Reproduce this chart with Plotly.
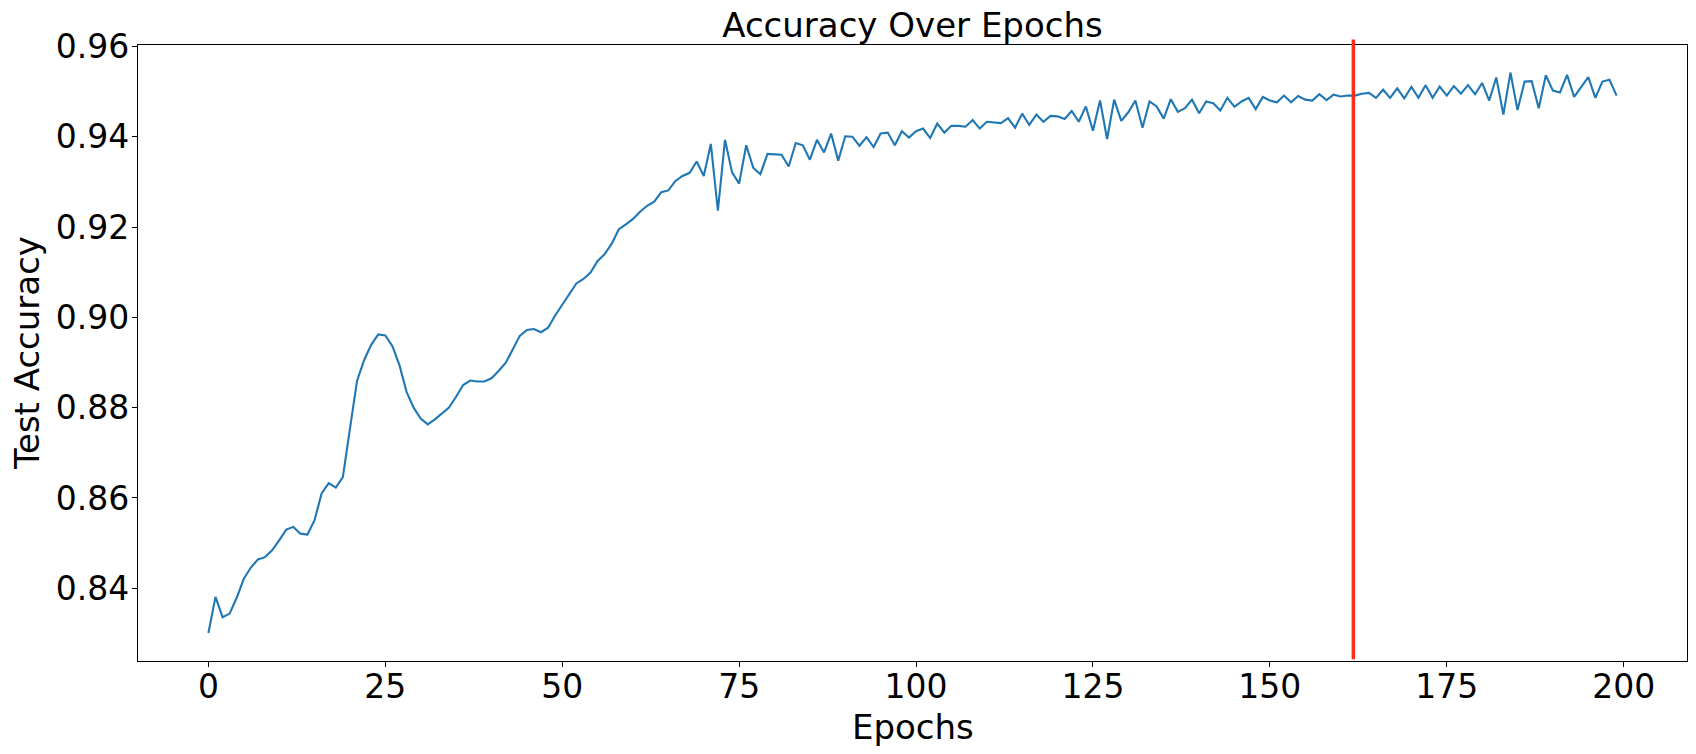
import plotly.graph_objects as go

epochs = list(range(200))
test_accuracy = [
    0.8301, 0.8381, 0.8336, 0.8344, 0.8379, 0.8421, 0.8446, 0.8464, 0.8469, 0.8484,
    0.8506, 0.8530, 0.8536, 0.8521, 0.8519, 0.8551, 0.8610, 0.8633, 0.8623, 0.8646,
    0.8753, 0.8859, 0.8905, 0.8939, 0.8962, 0.8960, 0.8936, 0.8894, 0.8835, 0.8800,
    0.8776, 0.8763, 0.8774, 0.8787, 0.8800, 0.8824, 0.8850, 0.8860, 0.8858, 0.8858,
    0.8865, 0.8881, 0.8899, 0.8929, 0.8959, 0.8972, 0.8974, 0.8967, 0.8977, 0.9004,
    0.9027, 0.9051, 0.9075, 0.9085, 0.9099, 0.9125, 0.9140, 0.9163, 0.9195, 0.9206,
    0.9218, 0.9234, 0.9247, 0.9256, 0.9277, 0.9281, 0.9302, 0.9313, 0.9320, 0.9345,
    0.9313, 0.9384, 0.9236, 0.9393, 0.9321, 0.9296, 0.9381, 0.9331, 0.9317, 0.9362,
    0.9361, 0.9360, 0.9334, 0.9386, 0.9381, 0.9349, 0.9393, 0.9365, 0.9407, 0.9347,
    0.9401, 0.9400, 0.9380, 0.9399, 0.9377, 0.9407, 0.9409, 0.9381, 0.9412, 0.9398,
    0.9412, 0.9418, 0.9397, 0.9429, 0.9409, 0.9424, 0.9424, 0.9422, 0.9437, 0.9418,
    0.9433, 0.9432, 0.9430, 0.9441, 0.9420, 0.9451, 0.9426, 0.9449, 0.9433, 0.9446,
    0.9445, 0.9439, 0.9457, 0.9433, 0.9467, 0.9413, 0.9480, 0.9395, 0.9482, 0.9435,
    0.9454, 0.9480, 0.9420, 0.9478, 0.9467, 0.9440, 0.9483, 0.9455, 0.9463, 0.9482,
    0.9452, 0.9478, 0.9474, 0.9458, 0.9486, 0.9466, 0.9478, 0.9486, 0.9461, 0.9488,
    0.9480, 0.9476, 0.9491, 0.9476, 0.9490, 0.9482, 0.9480, 0.9494, 0.9481, 0.9493,
    0.9489, 0.9491, 0.9491, 0.9495, 0.9497, 0.9486, 0.9504, 0.9486, 0.9507, 0.9485,
    0.9510, 0.9486, 0.9514, 0.9486, 0.9511, 0.9491, 0.9512, 0.9495, 0.9514, 0.9494,
    0.9519, 0.9480, 0.9531, 0.9449, 0.9542, 0.9459, 0.9522, 0.9523, 0.9463, 0.9536,
    0.9502, 0.9498, 0.9537, 0.9488, 0.9510, 0.9532, 0.9486, 0.9522, 0.9526, 0.9491,
]
assert len(test_accuracy) == len(epochs)

marker_epoch = 161.8
x_ticks = [0, 25, 50, 75, 100, 125, 150, 175, 200]
y_ticks = [0.84, 0.86, 0.88, 0.90, 0.92, 0.94, 0.96]

FONT = "DejaVu Sans"
W, H = 1696, 754
L, R, T, B = 138, 9, 45, 93
PW, PH = W - L - R, H - T - B

fig = go.Figure()
fig.add_trace(go.Scatter(
    x=epochs, y=test_accuracy, mode="lines",
    line=dict(color="#1f77b4", width=2.1),
    showlegend=False,
))

fig.add_shape(
    type="line", xref="x", yref="paper",
    x0=marker_epoch, x1=marker_epoch, y0=0.003, y1=1.009,
    line=dict(color="#ff2d1a", width=3.5),
)

def label(text, xpx, ypx, angle=0, size=34):
    # xpx, ypx are page coordinates
    fig.add_annotation(
        text=text, xref="paper", yref="paper",
        x=(xpx - L) / PW, y=(H - B - ypx) / PH,
        xanchor="center", yanchor="middle", showarrow=False,
        textangle=angle, font=dict(size=size, family=FONT, color="black"),
    )

label("Epochs", L + PW / 2, 727)
label("Test Accuracy", 27, T + PH / 2, angle=-90)

fig.update_layout(
    width=W, height=H,
    margin=dict(l=L, r=R, t=T, b=B),
    paper_bgcolor="white", plot_bgcolor="white",
    font=dict(family=FONT, color="black"),
    title=dict(text="Accuracy Over Epochs", xref="paper", x=0.5, xanchor="center",
               yref="container", y=1 - 25 / H, yanchor="middle",
               font=dict(size=34, family=FONT, color="black")),
)

fig.update_xaxes(
    range=[-9.95, 208.95], tickvals=x_ticks, ticktext=[str(t) for t in x_ticks],
    showgrid=False, zeroline=False, automargin=False,
    showline=True, linecolor="black", linewidth=1.1, mirror=True,
    ticks="outside", ticklen=5, tickwidth=1.1, tickcolor="black",
    tickfont=dict(size=33, family=FONT, color="black"),
    ticklabelstandoff=-9,
)
fig.update_yaxes(
    range=[0.8239, 0.9603], tickvals=y_ticks, ticktext=[f"{t:.2f}" for t in y_ticks],
    showgrid=False, zeroline=False, automargin=False,
    showline=True, linecolor="black", linewidth=1.1, mirror=True,
    ticks="outside", ticklen=5, tickwidth=1.1, tickcolor="black",
    tickfont=dict(size=33, family=FONT, color="black"),
    ticklabelstandoff=-4,
)

fig.write_html(
    "out.html",
    config={"displayModeBar": False},
    post_script="document.body.style.margin='0';document.body.style.overflow='hidden';",
)
